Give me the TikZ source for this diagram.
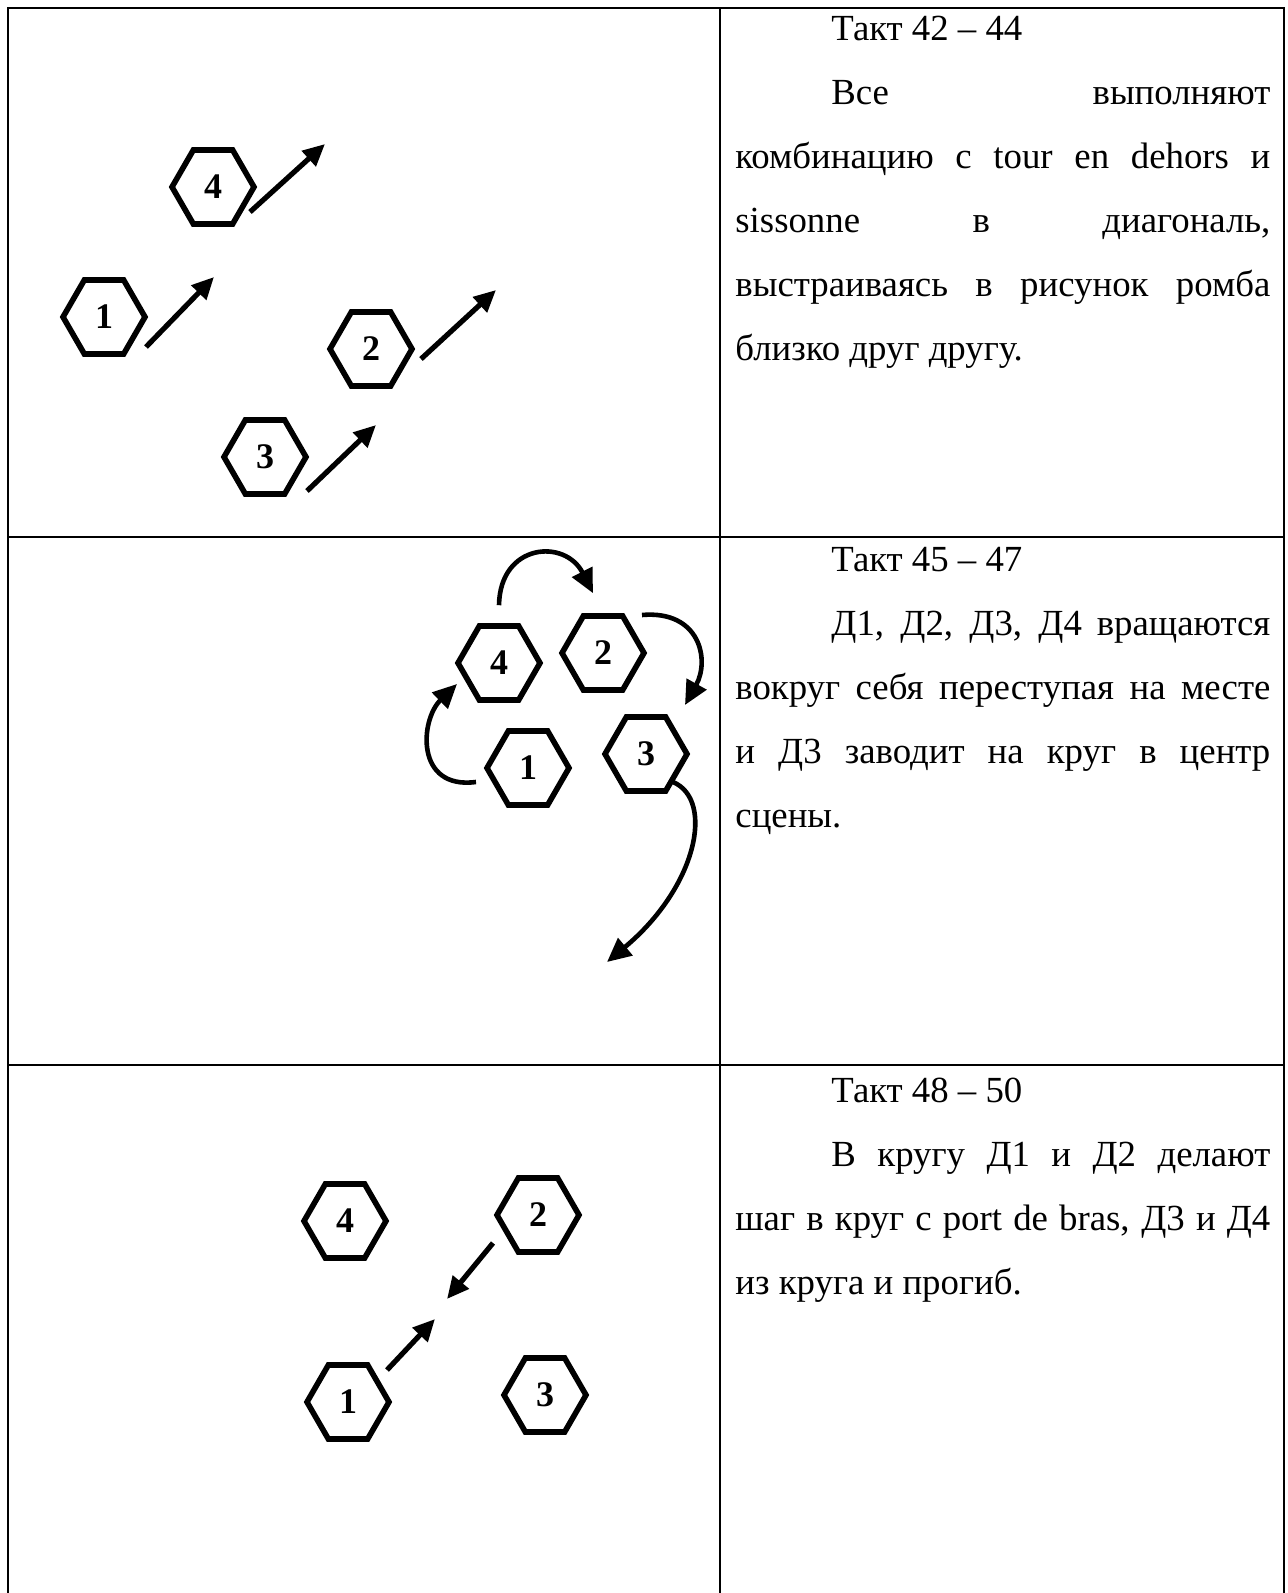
\documentclass[tikz,border=0pt]{standalone}
\usepackage{fontspec}
\setmainfont{Liberation Serif}
\usetikzlibrary{shapes.symbols,arrows.meta}

\begin{document}
\begin{tikzpicture}[x=0.5pt,y=-0.5pt,
    hexa/.style={draw,line width=2.8pt,shape=signal,signal to=west and east,
      signal pointer angle=120,minimum width=41pt,minimum height=37pt,inner sep=0pt,
      font=\fontsize{18}{18}\selectfont\bfseries},
    move/.style={line width=2.6pt,-{Triangle[length=11pt,width=10pt]}},
    turn/.style={line width=2.3pt,-{Triangle[length=12pt,width=11pt]}},
    cell/.style={anchor=base west,inner sep=0pt,text width=267.5pt,align=justify,
      font=\fontsize{18.4}{32}\selectfont}]
  \useasboundingbox (0,0) rectangle (1288,1593);

  % table
  \draw[line width=1.4pt] (8,1593) -- (8,8) -- (1284,8) -- (1284,1593);
  \draw[line width=1.4pt] (720,8) -- (720,1593);
  \draw[line width=1.4pt] (8,537) -- (1284,537) (8,1065) -- (1284,1065);

  % bars 42-44
  \node[hexa] (a4) at (213,187) {4};
  \node[hexa] (a1) at (104,317) {1};
  \node[hexa] (a2) at (371,349) {2};
  \node[hexa] (a3) at (265,457) {3};
  \coordinate (a4to) at (325,144);
  \coordinate (a1to) at (214,277);
  \coordinate (a2to) at (496,290);
  \coordinate (a3to) at (376,425);
  \draw[move] ([shift={(37,25)}]a4.center) -- (a4to);
  \draw[move] ([shift={(42,30)}]a1.center) -- (a1to);
  \draw[move] ([shift={(50,10)}]a2.center) -- (a2to);
  \draw[move] ([shift={(42,34)}]a3.center) -- (a3to);
  \node[cell] (t1) at (735,41) {\setlength{\parindent}{48pt}\hspace*{48pt}Такт 42 – 44\par
    Все выполняют\linebreak комбинацию с tour en dehors и\linebreak
    sissonne в диагональ,\linebreak выстраиваясь в рисунок ромба\linebreak
    близко друг другу.};

  % bars 45-47
  \node[hexa] (b4) at (499,663) {4};
  \node[hexa] (b2) at (603,653) {2};
  \node[hexa] (b1) at (528,768) {1};
  \node[hexa] (b3) at (646,754) {3};
  \coordinate (b3to) at (607,962);
  \draw[turn] ([shift={(0,-18)}]b4.north) .. controls +(1,-62) and +(-28,-55) .. ([shift={(-10,-20)}]b2.north);
  \draw[turn] ([shift={(39,-38)}]b2.center) .. controls +(58,-5) and +(25,-45) .. ([shift={(39,-49)}]b3.center);
  \draw[turn] ([shift={(-52,14)}]b1.center) .. controls +(-61,8) and +(-37,36) .. ([shift={(-42,21)}]b4.center);
  \draw[turn] ([shift={(27,28)}]b3.center) .. controls +(42,18) and +(90,-75) .. (b3to);
  \node[cell] (t2) at (735,571) {\setlength{\parindent}{48pt}\hspace*{48pt}Такт 45 – 47\par
    Д1, Д2, Д3, Д4 вращаются\linebreak вокруг себя переступая на месте\linebreak
    и Д3 заводит на круг в центр\linebreak сцены.};

  % bars 48-50
  \node[hexa] (c4) at (345,1221) {4};
  \node[hexa] (c2) at (538,1215) {2};
  \node[hexa] (c1) at (348,1402) {1};
  \node[hexa] (c3) at (545,1395) {3};
  \coordinate (c2to) at (447,1299);
  \coordinate (c1to) at (435,1319);
  \draw[move] ([shift={(-45,28)}]c2.center) -- (c2to);
  \draw[move] ([shift={(39,-32)}]c1.center) -- (c1to);
  \node[cell] (t3) at (735,1102) {\setlength{\parindent}{48pt}\hspace*{48pt}Такт 48 – 50\par
    В кругу Д1 и Д2 делают\linebreak шаг в круг с port de bras, Д3 и Д4\linebreak
    из круга и прогиб.};
\end{tikzpicture}
\end{document}
